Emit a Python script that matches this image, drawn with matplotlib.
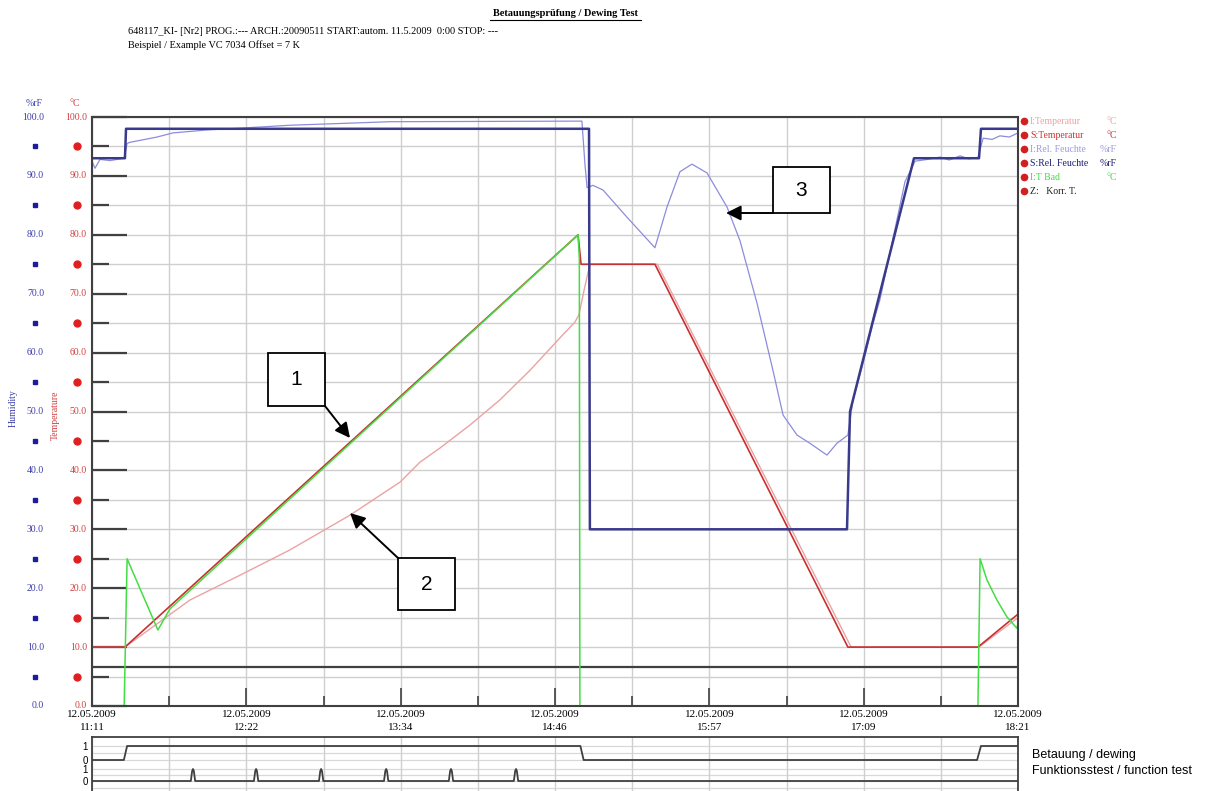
import numpy as np
import matplotlib
matplotlib.use('Agg')
import matplotlib.pyplot as plt
from matplotlib.lines import Line2D
from matplotlib.patches import Rectangle

W, H = 1224, 791

# Zeitachse: Minuten nach 12.05.2009 11:11
x_ticks = [0, 71.67, 143.33, 215, 286.67, 358.33, 430]
x_labels = ['12.05.2009\n11:11', '12.05.2009\n12:22', '12.05.2009\n13:34',
            '12.05.2009\n14:46', '12.05.2009\n15:57', '12.05.2009\n17:09',
            '12.05.2009\n18:21']
y_labels = ['0.0', '10.0', '20.0', '30.0', '40.0', '50.0', '60.0', '70.0',
            '80.0', '90.0', '100.0']

# S:Temperatur (Sollwert)
s_temp_t = [0, 15.3, 225.7, 227.1, 261.4, 351.0, 411.4, 430]
s_temp_v = [10, 10, 80, 75, 75, 10, 10, 15.6]

# I:Temperatur (Istwert)
i_temp_t = [0, 15.3, 45.5, 68.7, 91.9, 119.8, 143.0, 152.3, 161.6, 175.5, 189.5,
            203.4, 217.3, 224.3, 226.1, 228.5, 231.2, 262.5, 352.5, 411.8, 430]
i_temp_v = [10, 10, 18.0, 22.2, 26.5, 32.4, 38.0, 41.4, 43.8, 47.7, 52.0,
            57.0, 62.5, 65.2, 66.4, 70.6, 75, 75, 10, 10, 15.0]

# I:T Bad
bath_t = [0, 14.4, 16.3, 30.6, 36.2, 225.7, 226.3, 226.6, 411.0, 412.4, 415.6,
          420.2, 424.9, 429.5, 430]
bath_v = [-10, -10, 25.0, 12.9, 16.5, 80, 76, -10, -10, 25.0, 21.4,
          18.0, 15.1, 13.2, 14.0]

# S:Rel. Feuchte (Sollwert)
s_rh_t = [0, 15.3, 15.8, 230.8, 231.2, 350.6, 352.0, 381.7, 411.9, 412.8, 430]
s_rh_v = [93, 93, 98, 98, 30, 30, 50, 93, 93, 98, 98]

# I:Rel. Feuchte (Istwert)
i_rh_t = [0, 1.4, 3.7, 8.4, 14.9, 16.3, 17.6, 30.2, 37.6, 53.4, 68.7, 91.9, 138.4,
          227.5, 228.9, 229.9, 232.6, 237.3, 248.4, 261.4, 267.0, 273.0, 278.6,
          285.6, 294.9, 300.9, 308.8, 316.2, 320.9, 327.4, 333.4, 341.3, 345.9,
          351.0, 353.4, 357.6, 362.7, 365.9, 372.9, 377.5, 382.2, 388, 393.8,
          398, 403.1, 407, 411.4, 413.8, 418, 421.6, 426, 430]
i_rh_v = [92.5, 91.3, 92.8, 92.6, 93.0, 95.5, 95.7, 96.6, 97.3, 97.8, 98.1, 98.6, 99.2,
          99.3, 92, 88, 88.4, 87.6, 83, 77.8, 84.7, 90.7, 92,
          90.5, 84.7, 79, 68.4, 57, 49.4, 46, 44.6, 42.6, 44.6,
          46, 52, 57.6, 65, 69, 81, 89, 92.5, 92.8, 93.2,
          92.7, 93.4, 92.9, 93.1, 96.4, 96.2, 96.8, 96.6, 97.3]

# Z: Korr. T.
korr_t = [0, 430]
korr_v = [6.6, 6.6]

# digitale Spuren
dew_t = [0, 14.8, 16.3, 226.8, 228.3, 411.0, 412.8, 430]
dew_s = [0, 0, 1, 1, 0, 0, 1, 1]
func_pulses = [46.9, 76.2, 106.4, 136.6, 166.7, 196.9]

legend_items = [('I:Temperatur', '°C', '#f0a0a0'),
                ('S:Temperatur', '°C', '#d03030'),
                ('I:Rel. Feuchte', '%rF', '#9a9ae0'),
                ('S:Rel. Feuchte', '%rF', '#1c1c70'),
                ('I:T Bad', '°C', '#40e040'),
                ('Z:   Korr. T.', '', '#202020')]

SERIF = 'Liberation Serif'
SANS = 'Liberation Sans'


def fx(x):
    return x / W


def fy(y):
    return 1 - y / H


fig = plt.figure(figsize=(W / 100, H / 100), dpi=100)
fig.patch.set_facecolor('white')

# ---- Hauptdiagramm ----
ax = fig.add_axes([fx(92), fy(706), fx(1018) - fx(92), fy(117) - fy(706)])
ax.set_xlim(0, 430)
ax.set_ylim(0, 100)
ax.set_xticks(x_ticks)
ax.set_xticks([35.83 + 71.67 * i for i in range(6)], minor=True)
ax.set_xticklabels(x_labels, fontfamily=SERIF, fontsize=8, linespacing=1.6)
ax.set_yticks(np.arange(0, 101, 10))
ax.set_yticks(np.arange(5, 100, 10), minor=True)
ax.set_yticklabels([])
ax.tick_params(axis='x', which='major', direction='in', length=13, width=1.2,
               color='#404040', pad=3)
ax.tick_params(axis='x', which='minor', direction='in', length=7, width=1.2,
               color='#404040')
ax.tick_params(axis='y', which='major', direction='in', length=25, width=1.6,
               color='#404040')
ax.tick_params(axis='y', which='minor', direction='in', length=12, width=1.6,
               color='#404040')
ax.grid(True, which='both', color='#cfcfcf', lw=1.0)
ax.set_axisbelow(True)
for s in ax.spines.values():
    s.set_color('#404040')
    s.set_linewidth(1.5)

ax.plot(korr_t, korr_v, color='#404040', lw=1.6)
ax.plot(i_temp_t, i_temp_v, color='#eca2a2', lw=1.0)
ax.plot(s_temp_t, s_temp_v, color='#c83030', lw=1.2)
ax.plot(bath_t, bath_v, color='#44dd44', lw=1.1)
ax.plot(i_rh_t, i_rh_v, color='#8c8cdc', lw=0.9)
ax.plot(s_rh_t, s_rh_v, color='#3a3a8c', lw=1.8)

# Achsbeschriftung links (zwei Skalen)
tr = ax.get_yaxis_transform()
for i, lab in enumerate(y_labels):
    v = i * 10
    ax.text(-0.0518, v, lab, transform=tr, ha='right', va='center',
            fontfamily=SERIF, fontsize=7, color='#3c3caa')
    ax.text(-0.0055, v, lab, transform=tr, ha='right', va='center',
            fontfamily=SERIF, fontsize=7, color='#d04040')
for v in np.arange(5, 100, 10):
    ax.plot([-0.0616], [v], transform=tr, marker='s', ms=3.5, color='#1c1c9c',
            clip_on=False)
    ax.plot([-0.0162], [v], transform=tr, marker='o', ms=5, color='#e02020',
            clip_on=False)
fig.text(fx(34), fy(103), '%rF', ha='center', va='center', fontfamily=SERIF,
         fontsize=7, color='#3c3caa')
fig.text(fx(75), fy(103), '°C', ha='center', va='center', fontfamily=SERIF,
         fontsize=7, color='#d04040')
fig.text(fx(13), fy(408), 'Humidity', rotation=90, ha='center', va='center',
         fontfamily=SERIF, fontsize=7, color='#3c3caa')
fig.text(fx(55), fy(415), 'Temperature', rotation=90, ha='center', va='center',
         fontfamily=SERIF, fontsize=7, color='#d04040')

# Titel
fig.text(fx(565), fy(14), 'Betauungsprüfung / Dewing Test', ha='center',
         va='center', fontfamily=SERIF, fontsize=7.5, fontweight='bold')
fig.add_artist(Line2D([fx(490), fx(641)], [fy(20), fy(20)], color='black', lw=0.8))
fig.text(fx(128), fy(31), '648117_KI- [Nr2] PROG.:--- ARCH.:20090511 START:autom. '
         '11.5.2009  0:00 STOP: ---', ha='left', va='center', fontfamily=SERIF,
         fontsize=7.4)
fig.text(fx(128), fy(45), 'Beispiel / Example VC 7034 Offset = 7 K', ha='left',
         va='center', fontfamily=SERIF, fontsize=7.4)

# Legende rechts
for i, (name, unit, col) in enumerate(legend_items):
    y = 121 + i * 14
    fig.add_artist(Line2D([fx(1024)], [fy(y)], marker='o', ms=4.5, color='#d02020'))
    fig.text(fx(1030), fy(y), name, ha='left', va='center', fontfamily=SERIF,
             fontsize=7, color=col)
    fig.text(fx(1117), fy(y), unit, ha='right', va='center', fontfamily=SERIF,
             fontsize=7, color=col)

# Markierungen 1, 2, 3
boxes = [('1', 268, 353, 57, 53, (325, 406), (350, 438)),
         ('2', 398, 558, 57, 52, (398, 558), (350, 513)),
         ('3', 773, 167, 57, 46, (773, 213), (726, 213))]
for txt, bx, by, bw, bh, tail, tip in boxes:
    fig.add_artist(Rectangle((fx(bx), fy(by + bh)), bw / W, bh / H,
                             facecolor='white', edgecolor='black', lw=1.3))
    fig.text(fx(bx + bw / 2), fy(by + bh / 2), txt, ha='center', va='center',
             fontfamily=SANS, fontsize=15)
    ax.annotate('', xy=(tip[0], H - tip[1]), xytext=(tail[0], H - tail[1]),
                xycoords='figure pixels', textcoords='figure pixels',
                arrowprops=dict(arrowstyle='-|>,head_length=0.9,head_width=0.45',
                                color='black', lw=1.4, shrinkA=0, shrinkB=0))

# ---- Digitalspuren unten ----
ax2 = fig.add_axes([fx(92), 0, fx(1018) - fx(92), fy(737)])
ax2.set_xlim(0, 430)
ax2.set_ylim(0, 54)
ax2.set_xticks(x_ticks)
ax2.set_xticks([35.83 + 71.67 * i for i in range(6)], minor=True)
ax2.set_xticklabels([])
ax2.tick_params(axis='x', which='both', length=0)
ax2.set_yticks([45, 31, 22, 10])
ax2.set_yticklabels(['1', '0', '1', '0'], fontfamily=SANS, fontsize=7)
ax2.tick_params(axis='y', length=0, pad=3)
ax2.grid(True, axis='x', which='both', color='#cfcfcf', lw=1.0)
for yy in [45, 38, 31, 22, 16, 10, 3]:
    ax2.axhline(yy, color='#d8d8d8', lw=0.9, zorder=0)
for s in ax2.spines.values():
    s.set_color('#404040')
    s.set_linewidth(1.3)
ax2.spines['bottom'].set_visible(False)

ax2.plot(dew_t, [31 + 14 * s for s in dew_s], color='#404040', lw=1.3)
ft = [0]
fv = [10]
for p in func_pulses:
    ft += [p - 1.0, p - 0.4, p, p + 0.4, p + 1.0]
    fv += [10, 20, 22, 20, 10]
ft.append(430)
fv.append(10)
ax2.plot(ft, fv, color='#404040', lw=1.3)

fig.text(fx(1032), fy(755), 'Betauung / dewing', ha='left', va='center',
         fontfamily=SANS, fontsize=9)
fig.text(fx(1032), fy(771), 'Funktionsstest / function test', ha='left',
         va='center', fontfamily=SANS, fontsize=9)

fig.savefig('out.png', dpi=100)
